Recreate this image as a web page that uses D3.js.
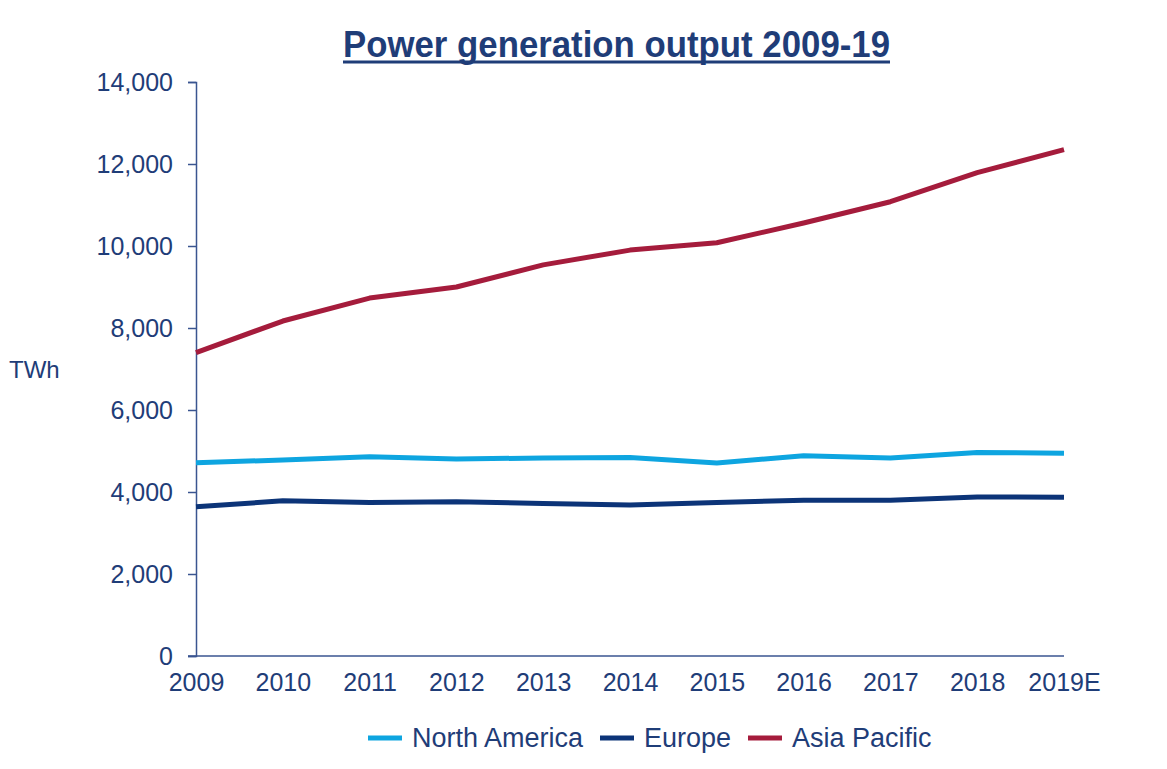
<!DOCTYPE html>
<html>
<head>
<meta charset="utf-8">
<script src="https://cdnjs.cloudflare.com/ajax/libs/d3/7.8.5/d3.min.js"></script>
<style>
  body { margin: 0; background: #fff; }
  text { font-family: "Liberation Sans", Arial, sans-serif; }
</style>
</head>
<body>
<div id="chart"></div>
<script>
// Data (TWh)
const years = ["2009", "2010", "2011", "2012", "2013", "2014", "2015", "2016", "2017", "2018", "2019E"];
const northAmerica = [4715, 4780, 4860, 4805, 4830, 4840, 4705, 4885, 4830, 4965, 4945];
const europe = [3640, 3785, 3745, 3760, 3720, 3680, 3745, 3800, 3800, 3880, 3870];
const asiaPacific = [7400, 8170, 8730, 9000, 9540, 9900, 10080, 10560, 11080, 11790, 12350];
const yTicks = [0, 2000, 4000, 6000, 8000, 10000, 12000, 14000];

const seriesNames = ["North America", "Europe", "Asia Pacific"];
const seriesColors = ["#0ea5e0", "#0c3478", "#a51c3c"];
const seriesValues = [northAmerica, europe, asiaPacific];

const textColor = "#1f3d78";
const axisColor = "#3a5590";

// Dimensions and margins
const totalW = 1167, totalH = 769;
const margin = {top: 82, right: 103, bottom: 113, left: 196};
const width = totalW - margin.left - margin.right;
const height = totalH - margin.top - margin.bottom;

const root = d3.select("#chart").append("svg")
    .attr("width", totalW)
    .attr("height", totalH);

const svg = root.append("g")
    .attr("transform", `translate(${margin.left},${margin.top})`);

// Scales
const x = d3.scalePoint()
    .domain(years)
    .range([0, width]);

const y = d3.scaleLinear()
    .domain([0, 14000])
    .range([height, 0]);

// Y axis
const yAxis = svg.append("g")
    .call(d3.axisLeft(y).tickValues(yTicks).tickSize(8).tickPadding(15)
        .tickFormat(d3.format(",")));
yAxis.select(".domain").attr("stroke", axisColor).attr("stroke-width", 1.5);
yAxis.selectAll(".tick line").attr("stroke", axisColor).attr("stroke-width", 1.5);
yAxis.selectAll(".tick text")
    .attr("fill", textColor)
    .style("font-size", "25px");

// X axis (no ticks, line extends left to meet the 0 tick)
const xAxis = svg.append("g")
    .attr("transform", `translate(0,${height})`)
    .call(d3.axisBottom(x).tickSize(0).tickPadding(17));
xAxis.select(".domain").remove();
xAxis.append("line")
    .attr("x1", -8).attr("x2", width)
    .attr("stroke", axisColor).attr("stroke-width", 1.5);
xAxis.selectAll(".tick text")
    .attr("fill", textColor)
    .style("font-size", "25px");

// Y axis label
root.append("text")
    .attr("x", 9)
    .attr("y", 378)
    .attr("fill", textColor)
    .style("font-size", "24px")
    .text("TWh");

// Lines
const line = d3.line()
    .x((d, i) => x(years[i]))
    .y(d => y(d));

seriesValues.forEach((vals, i) => {
    svg.append("path")
        .datum(vals)
        .attr("fill", "none")
        .attr("stroke", seriesColors[i])
        .attr("stroke-width", 5)
        .attr("stroke-linejoin", "round")
        .attr("d", line);
});

// Title (underlined)
root.append("text")
    .attr("x", 343)
    .attr("y", 57)
    .attr("textLength", 547)
    .attr("lengthAdjust", "spacingAndGlyphs")
    .attr("fill", textColor)
    .style("font-size", "36px")
    .style("font-weight", "bold")
    .text("Power generation output 2009-19");
root.append("line")
    .attr("x1", 343).attr("x2", 890)
    .attr("y1", 62).attr("y2", 62)
    .attr("stroke", textColor)
    .attr("stroke-width", 3);

// Legend
const legend = root.append("g")
    .attr("transform", "translate(0,738)");
const legendX = [368, 600, 748];
seriesNames.forEach((name, i) => {
    legend.append("line")
        .attr("x1", legendX[i]).attr("x2", legendX[i] + 34)
        .attr("y1", 0).attr("y2", 0)
        .attr("stroke", seriesColors[i])
        .attr("stroke-width", 5);
    legend.append("text")
        .attr("x", legendX[i] + 44)
        .attr("y", 0)
        .attr("dy", "0.35em")
        .attr("fill", textColor)
        .style("font-size", "27px")
        .text(name);
});
</script>
</body>
</html>
